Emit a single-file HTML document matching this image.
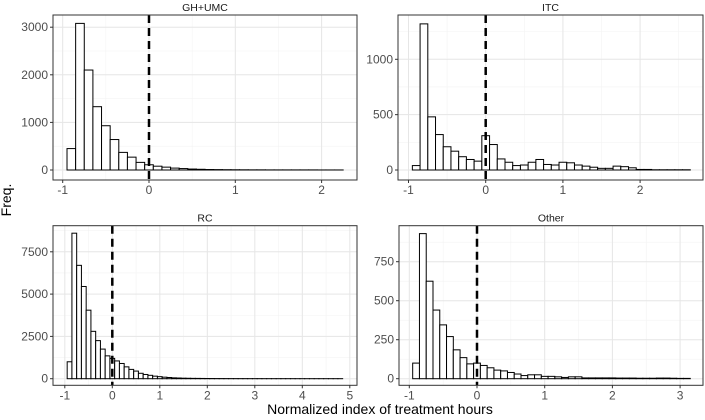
<!DOCTYPE html>
<html><head><meta charset="utf-8"><style>
body{margin:0;background:#fff}
svg{display:block;font-family:"Liberation Sans",sans-serif}
</style></head><body>
<svg id="c" width="705" height="420">
<text x="11" y="200" font-size="14" fill="#000" text-anchor="middle" transform="rotate(-90 11 200)">Freq.</text>
<text x="380" y="414" font-size="14" fill="#000" text-anchor="middle">Normalized index of treatment hours</text>
</svg>
<script>
const ghValues=[450,3080,2100,1330,930,640,370,270,160,110,80,60,40,30,20,15,10,8,6,5,4,3,3,2,2,2,2,2,2,1,1,1];
const itcValues=[40,1320,480,320,210,170,120,95,80,310,230,100,70,40,45,70,95,50,45,70,65,45,35,25,15,15,35,30,20,5,5,2,2,2,2,2];
const rcValues=[1000,8600,6700,5450,4050,2800,2250,1750,1350,1200,1050,900,700,550,450,320,250,200,150,120,90,70,50,40,30,25,20,18,15,12,10,8,7,6,5,5,4,4,3,3,3,2,2,2,2,2,2,2,1,1,1,1,1,1,1,1,1,1];
const otherValues=[100,930,625,440,345,270,185,135,95,100,85,70,55,50,40,30,20,25,25,15,15,12,8,12,12,5,5,5,5,5,4,4,4,3,3,3,4,4,3,2,2];
const ghXTicks=[-1,0,1,2], ghYTicks=[0,1000,2000,3000];
const itcXTicks=[-1,0,1,2], itcYTicks=[0,500,1000];
const rcXTicks=[-1,0,1,2,3,4,5], rcYTicks=[0,2500,5000,7500];
const otherXTicks=[-1,0,1,2,3], otherYTicks=[0,250,500,750];
const binStart=-0.95, binWidth=0.1;
const NS='http://www.w3.org/2000/svg';
const svg=document.getElementById('c');
function mk(tag,attrs,parent){const e=document.createElementNS(NS,tag);for(const k in attrs)e.setAttribute(k,attrs[k]);(parent||svg).appendChild(e);return e;}
const panels=[
 {title:'GH+UMC',vals:ghValues,xt:ghXTicks,yt:ghYTicks,box:[53,15,357,180],x0:149,xs:86.3,y0:170,ys:47.6/1000,yminor:500,xminor:0.5},
 {title:'ITC',vals:itcValues,xt:itcXTicks,yt:itcYTicks,box:[398,15,703,180],x0:485.7,xs:77.2,y0:170,ys:110.7/1000,yminor:250,xminor:0.5},
 {title:'RC',vals:rcValues,xt:rcXTicks,yt:rcYTicks,box:[53,225.7,357,385.3],x0:112.3,xs:47.5,y0:378.7,ys:42.3/2500,yminor:1250,xminor:0.5},
 {title:'Other',vals:otherValues,xt:otherXTicks,yt:otherYTicks,box:[399,225.7,703,385.3],x0:477,xs:67.7,y0:378.7,ys:39/250,yminor:125,xminor:0.5}
];
panels.forEach((p,i)=>{
 const g=mk('g',{});
 
 
 const [L,T,R,B]=p.box;
 const X=v=>p.x0+v*p.xs, Y=v=>p.y0-v*p.ys;
 mk('rect',{x:L,y:T,width:R-L,height:B-T,fill:'#fff'},g);
 const xmin=(L-p.x0)/p.xs, xmax=(R-p.x0)/p.xs;
 for(let v=Math.ceil(xmin/p.xminor)*p.xminor;v<=xmax;v+=p.xminor){mk('line',{x1:X(v),x2:X(v),y1:T,y2:B,stroke:'#f3f3f3','stroke-width':0.6},g);}
 const ymaxv=(p.y0-T)/p.ys, yminv=(p.y0-B)/p.ys;
 for(let v=Math.ceil(yminv/p.yminor)*p.yminor;v<=ymaxv;v+=p.yminor){mk('line',{x1:L,x2:R,y1:Y(v),y2:Y(v),stroke:'#f3f3f3','stroke-width':0.6},g);}
 p.xt.forEach(v=>mk('line',{x1:X(v),x2:X(v),y1:T,y2:B,stroke:'#e6e6e6','stroke-width':1},g));
 p.yt.forEach(v=>mk('line',{x1:L,x2:R,y1:Y(v),y2:Y(v),stroke:'#e6e6e6','stroke-width':1},g));
 p.vals.forEach((v,k)=>{
  const r=mk('rect',{x:X(binStart+k*binWidth),y:Y(v),width:binWidth*p.xs,height:Math.max(0,Y(0)-Y(v)),fill:'#fff',stroke:'#000','stroke-width':1},g);
  
  
 });
 const vl=mk('line',{x1:X(0),x2:X(0),y1:T,y2:B,stroke:'#000','stroke-width':2.5,'stroke-dasharray':'8,5'},g);
 
 
 mk('rect',{x:L,y:T,width:R-L,height:B-T,fill:'none',stroke:'#333','stroke-width':1},g);
 p.xt.forEach(v=>{mk('line',{x1:X(v),x2:X(v),y1:B,y2:B+3,stroke:'#333'},g);
  const t=mk('text',{x:X(v),y:B+14,'font-size':12,fill:'#4d4d4d','text-anchor':'middle'},g);t.textContent=v;
  });
 p.yt.forEach(v=>{mk('line',{x1:L-3,x2:L,y1:Y(v),y2:Y(v),stroke:'#333'},g);
  const t=mk('text',{x:L-5,y:Y(v)+4,'font-size':12,fill:'#4d4d4d','text-anchor':'end'},g);t.textContent=v;
  });
 const st=mk('text',{x:(L+R)/2,y:T-4,'font-size':10.5,fill:'#1a1a1a','text-anchor':'middle'},g);st.textContent=p.title;
 
 
});
</script>
</body></html>
